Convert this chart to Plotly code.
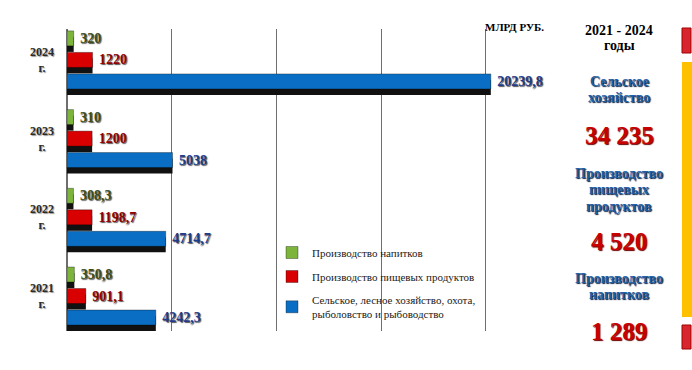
import plotly.graph_objects as go

# ---- data ----
years = ["2021", "2022", "2023", "2024"]
drinks = [350.8, 308.3, 310, 320]            # Производство напитков
food = [901.1, 1198.7, 1200, 1220]           # Производство пищевых продуктов
agri = [4242.3, 4714.7, 5038, 20239.8]       # Сельское, лесное хозяйство...
series_names = [
    "Производство напитков",
    "Производство пищевых продуктов",
    "Сельское, лесное хозяйство, охота,<br>рыболовство и рыбоводство",
]
unit_label = "МЛРД РУБ."
period_label = ["2021 - 2024", "годы"]

SERIF = "Liberation Serif, Times New Roman, serif"

# ---- layout geometry (pixels) ----
W, H = 692, 370
L, R, T, B = 67, 197, 29, 39
plot_w = W - L - R
plot_h = H - T - B
xmax = plot_w / 104.7 * 5000
cat_px = 78.7
y_lo = -((H - B) - 296) / cat_px
y_hi = y_lo + plot_h / cat_px

def py(p):
    return (H - B - p) / plot_h

def px(p):
    return (p - L) / plot_w

def fmt(v):
    return " " + f"{v:g}".replace(".", ",")

def fmt_total(v):
    return f"{round(v):,}".replace(",", " ")

slot = 21.5 / cat_px
bw = 15 / cat_px
sh = 6 / cat_px

fill_colors = ["#7cb43c", "#d80000", "#0a6fc4"]
text_colors = ["#3c4d1a", "#8e0000", "#1c3c8c"]
values = [drinks, food, agri]
offsets = [slot, 0, -slot]

fig = go.Figure()
# shadows
for i in range(3):
    fig.add_trace(go.Bar(
        y=years, x=values[i], orientation="h",
        offset=offsets[i] - bw / 2 - sh, width=bw,
        marker=dict(color="#111111", line=dict(width=0)),
        showlegend=False, hoverinfo="skip",
    ))
# bars
for i in range(3):
    fig.add_trace(go.Bar(
        y=years, x=values[i], orientation="h", name=series_names[i],
        offset=offsets[i] - bw / 2, width=bw,
        marker=dict(color=fill_colors[i], line=dict(color="rgba(0,0,0,0.55)", width=0.6)),
        text=[fmt(v) for v in values[i]], textposition="outside",
        textfont=dict(family=SERIF, size=14, color=text_colors[i], weight="bold",
                      shadow="1px 1px 1px #555"),
        constraintext="none", cliponaxis=False,
        legendgroup=f"g{i}",
    ))

annotations = []
for k, yv in enumerate(years):
    annotations.append(dict(
        x=px(42), xref="paper", y=k, yref="y", text=f"{yv}<br>г.",
        showarrow=False, align="center", xanchor="center", yanchor="middle",
        font=dict(family=SERIF, size=12, color="#2a2a2a", weight="bold",
                  shadow="1px 1px 1px #999"),
    ))

annotations.append(dict(
    x=px(483), xref="paper", y=py(27.5), yref="paper", text=unit_label,
    showarrow=False, xanchor="left", yanchor="middle",
    font=dict(family=SERIF, size=11, color="#000", weight="bold"),
))

cx = px(619)
def right_text(t, p, size, color, shadow="none"):
    annotations.append(dict(
        x=cx, xref="paper", y=py(p), yref="paper", text=t, showarrow=False,
        xanchor="center", yanchor="middle",
        font=dict(family=SERIF, size=size, color=color, weight="bold", shadow=shadow),
    ))

blue_t = "#1d5fa6"
blue_sh = "1px 1px 1px #0b1f40"
right_text(period_label[0], 30, 14, "#000")
right_text(period_label[1], 46, 14, "#000")
right_text("Сельское", 81, 14, blue_t, blue_sh)
right_text("хозяйство", 97, 14, blue_t, blue_sh)
right_text(fmt_total(sum(agri)), 135, 25, "#c80000", "1px 1px 1px #600")
right_text("Производство", 173, 14, blue_t, blue_sh)
right_text("пищевых", 190, 14, blue_t, blue_sh)
right_text("продуктов", 206, 14, blue_t, blue_sh)
right_text(fmt_total(sum(food)), 242, 25, "#c80000", "1px 1px 1px #600")
right_text("Производство", 278, 14, blue_t, blue_sh)
right_text("напитков", 294, 14, blue_t, blue_sh)
right_text(fmt_total(sum(drinks)), 331, 25, "#c80000", "1px 1px 1px #600")

shapes = [
    dict(type="rect", xref="paper", yref="paper", x0=px(682), x1=px(691), y0=py(53), y1=py(28),
         fillcolor="#d8262e", line=dict(color="#a00000", width=1)),
    dict(type="rect", xref="paper", yref="paper", x0=px(682), x1=px(692), y0=py(317), y1=py(62),
         fillcolor="#ffc000", line=dict(width=0)),
    dict(type="rect", xref="paper", yref="paper", x0=px(682), x1=px(691), y0=py(349), y1=py(325),
         fillcolor="#d8262e", line=dict(color="#a00000", width=1)),
]

fig.update_layout(
    width=W, height=H,
    margin=dict(l=L, r=R, t=T, b=B, pad=0),
    paper_bgcolor="white", plot_bgcolor="white",
    barmode="overlay",
    xaxis=dict(range=[0, xmax], dtick=5000, showgrid=True, gridcolor="#6e6e6e", gridwidth=1.2,
               showticklabels=False, zeroline=True, zerolinecolor="#6e6e6e", zerolinewidth=1.5,
               fixedrange=True),
    yaxis=dict(type="category", range=[y_lo, y_hi], showticklabels=False, showgrid=False,
               zeroline=False, fixedrange=True),
    legend=dict(x=px(272), y=py(238), xanchor="left", yanchor="top",
                bgcolor="rgba(0,0,0,0)", traceorder="reversed+grouped", tracegroupgap=5,
                font=dict(family=SERIF, size=11, color="#1a1a1a"),
                itemwidth=30),
    annotations=annotations,
    shapes=shapes,
    showlegend=True,
)

fig.write_html("out.html")
